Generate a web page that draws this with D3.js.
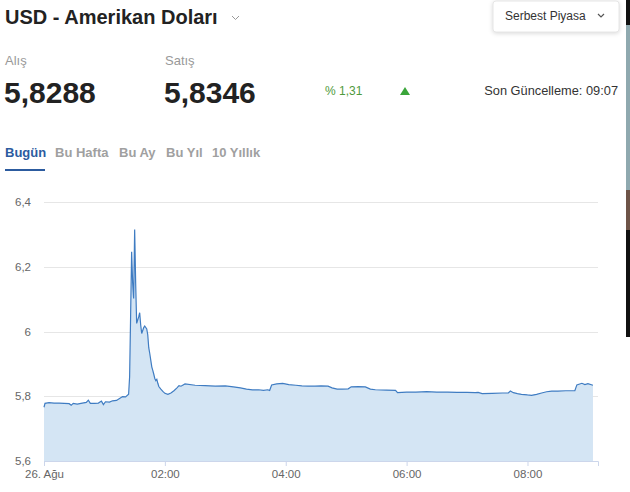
<!DOCTYPE html>
<meta charset="utf-8">
<html>
  <head>
    <title>USD - Amerikan Doları</title>
    <script src="https://d3js.org/d3.v7.min.js"></script>
    <style>
      body{margin:0;background:#fff;font-family:"Liberation Sans",Arial,sans-serif;}
    </style>
  </head>
  <body>
    <div id="chart"></div>
  <script>
    var width=630,
        height=492;

    // today's quotes (time of day, rate)
    var times=["00:00","00:01","00:05","00:10","00:15","00:20","00:25","00:27","00:29","00:33",
      "00:38","00:42","00:44","00:46","00:50","00:54","00:57","00:59","01:01","01:05",
      "01:08","01:12","01:15","01:18","01:21","01:24","01:25","01:26","01:27","01:28",
      "01:29","01:30","01:31","01:32","01:34","01:35","01:36","01:37","01:39","01:40",
      "01:42","01:43","01:44","01:45","01:47","01:48","01:49","01:50","01:51","01:52",
      "01:53","01:54","01:56","01:58","02:00","02:03","02:06","02:09","02:12","02:14",
      "02:16","02:20","02:30","02:40","02:50","03:00","03:08","03:15","03:21","03:27",
      "03:33","03:38","03:42","03:44","03:46","03:51","03:57","04:03","04:10","04:16",
      "04:22","04:29","04:35","04:42","04:46","04:51","04:56","05:02","05:05","05:12",
      "05:19","05:24","05:29","05:40","05:49","05:51","06:00","06:09","06:20","06:30",
      "06:41","06:50","07:00","07:08","07:11","07:15","07:25","07:35","07:41","07:43",
      "07:46","07:50","07:54","08:00","08:04","08:09","08:14","08:19","08:24","08:30",
      "08:38","08:47","08:49","08:54","08:57","09:00","09:05"];
    var rates=[5.766,5.778,5.780,5.779,5.779,5.778,5.777,5.772,5.778,5.776,
      5.779,5.781,5.788,5.778,5.778,5.779,5.785,5.774,5.783,5.782,
      5.786,5.787,5.793,5.799,5.798,5.806,5.860,6.050,6.246,6.150,
      6.102,6.315,6.150,6.025,6.045,6.058,6.020,5.994,6.012,6.017,
      6.008,5.990,5.950,5.932,5.891,5.880,5.868,5.855,5.848,5.852,
      5.840,5.830,5.822,5.815,5.809,5.806,5.810,5.817,5.826,5.833,
      5.831,5.838,5.834,5.833,5.831,5.832,5.829,5.826,5.822,5.820,
      5.820,5.818,5.820,5.818,5.835,5.838,5.840,5.836,5.834,5.832,
      5.831,5.831,5.832,5.831,5.826,5.822,5.822,5.823,5.829,5.830,
      5.829,5.822,5.820,5.819,5.818,5.811,5.813,5.813,5.814,5.813,
      5.813,5.812,5.812,5.811,5.812,5.808,5.809,5.810,5.810,5.816,
      5.811,5.808,5.806,5.804,5.803,5.806,5.810,5.814,5.816,5.816,
      5.817,5.817,5.835,5.840,5.836,5.839,5.834];
    var yTicks=[5.6,5.8,6,6.2,6.4];
    var xTicks=["00:00","02:00","04:00","06:00","08:00"];
    var tabs=["Bugün","Bu Hafta","Bu Ay","Bu Yıl","10 Yıllık"];
    var tabX=[5,55,119,166,212];

    var parseTime=d3.timeParse("%Y-%m-%d %H:%M");
    function toDate(t){return parseTime("2019-08-26 "+t);}
    var data=times.map(function(t,i){return {date:toDate(t),value:rates[i]};});

    var trLocale=d3.formatLocale({decimal:",",thousands:".",grouping:[3],currency:["","₺"]});
    var yFormat=trLocale.format("~f");

    var svg=d3.select("#chart").append("svg")
      .attr("width",width)
      .attr("height",height)
      .style("display","block");

    // screenshot edge strip on the right
    var edge=[[0,25,"#111"],[25,165,"#8fa9af"],[190,40,"#6e5448"],[230,107,"#111"]];
    svg.selectAll("rect.edge").data(edge).enter().append("rect")
      .attr("class","edge")
      .attr("x",626).attr("width",4)
      .attr("y",function(d){return d[0]}).attr("height",function(d){return d[1]})
      .attr("fill",function(d){return d[2]});

    // header
    svg.append("text").text("USD - Amerikan Doları")
      .attr("x",5).attr("y",24)
      .style("font-size","20px").style("font-weight","bold").attr("fill","#222");
    svg.append("path").attr("d","M232,16 l3.5,3.5 l3.5,-3.5")
      .attr("fill","none").attr("stroke","#999").attr("stroke-width",1);

    // market dropdown
    var btn=svg.append("g");
    btn.append("rect").attr("x",493).attr("y",1).attr("width",126).attr("height",31)
      .attr("rx",3).attr("fill","#fff").attr("stroke","#e6e6e6")
      .style("filter","drop-shadow(0px 1px 2px rgba(0,0,0,0.15))");
    btn.append("text").text("Serbest Piyasa").attr("x",505).attr("y",20)
      .style("font-size","12px").attr("fill","#333");
    btn.append("path").attr("d","M598,14 l3,3 l3,-3")
      .attr("fill","none").attr("stroke","#555").attr("stroke-width",1.2);

    svg.append("text").text("Alış").attr("x",5).attr("y",65)
      .style("font-size","13px").attr("fill","#999");
    svg.append("text").text("Satış").attr("x",165).attr("y",65)
      .style("font-size","13px").attr("fill","#999");
    svg.append("text").text("5,8288").attr("x",4).attr("y",103)
      .style("font-size","30px").style("font-weight","bold").attr("fill","#222");
    svg.append("text").text("5,8346").attr("x",164).attr("y",103)
      .style("font-size","30px").style("font-weight","bold").attr("fill","#222");
    svg.append("text").text("% 1,31").attr("x",325).attr("y",95)
      .style("font-size","12px").attr("fill","#4f9a3c");
    svg.append("path").attr("d","M400,95 l5,-8 l5,8 z").attr("fill","#3aa53a");
    svg.append("text").text("Son Güncelleme: 09:07").attr("x",618).attr("y",95)
      .attr("text-anchor","end").style("font-size","12.8px").attr("fill","#333");

    // period tabs
    svg.selectAll("text.tab").data(tabs).enter().append("text")
      .attr("class","tab")
      .text(function(d){return d})
      .attr("x",function(d,i){return tabX[i]})
      .attr("y",157)
      .style("font-size","13px").style("font-weight","bold")
      .attr("fill",function(d,i){return i==0?"#2c5b9f":"#a0a0a0"});
    svg.append("rect").attr("x",5).attr("y",169).attr("width",40).attr("height",2)
      .attr("fill","#2c5b9f");

    // chart
    var x=d3.scaleTime()
      .domain([toDate("00:00"),toDate("09:10")])
      .range([44,598]);
    var y=d3.scaleLinear()
      .domain([5.6,6.4])
      .range([461,202]);

    var gridG=svg.append("g");
    gridG.selectAll("line").data(yTicks.slice(1)).enter().append("line")
      .attr("x1",44).attr("x2",598)
      .attr("y1",function(d){return Math.round(y(d))+0.5})
      .attr("y2",function(d){return Math.round(y(d))+0.5})
      .attr("stroke","#e6e6e6");

    var area=d3.area()
      .x(function(d){return x(d.date)})
      .y0(y(5.6))
      .y1(function(d){return y(d.value)});
    var line=d3.line()
      .x(function(d){return x(d.date)})
      .y(function(d){return y(d.value)});

    svg.append("path").datum(data)
      .attr("d",area)
      .attr("fill","#d4e5f4");
    svg.append("path").datum(data)
      .attr("d",line)
      .attr("fill","none")
      .attr("stroke","#3f7cc2")
      .attr("stroke-width",1.2);

    // y labels
    svg.append("g").selectAll("text").data(yTicks).enter().append("text")
      .text(function(d){return yFormat(d)})
      .attr("x",31)
      .attr("y",function(d){return y(d)+4})
      .attr("text-anchor","end")
      .style("font-size","11.5px").attr("fill","#666");

    // x axis
    var xAxis=d3.axisBottom(x)
      .tickValues(xTicks.map(toDate))
      .tickSize(5)
      .tickFormat(function(d){return d.getHours()==0?"26. Ağu":d3.timeFormat("%H:%M")(d)});
    var xG=svg.append("g").attr("transform","translate(0,461)").call(xAxis);
    xG.select(".domain").attr("stroke","#ccd6eb");
    xG.selectAll(".tick line").attr("stroke","#ccd6eb");
    xG.selectAll(".tick text")
      .attr("y",9)
      .style("font-size","11.5px")
      .style("font-family","\"Liberation Sans\",Arial,sans-serif")
      .attr("fill","#666");
  </script>
  </body>
</html>
